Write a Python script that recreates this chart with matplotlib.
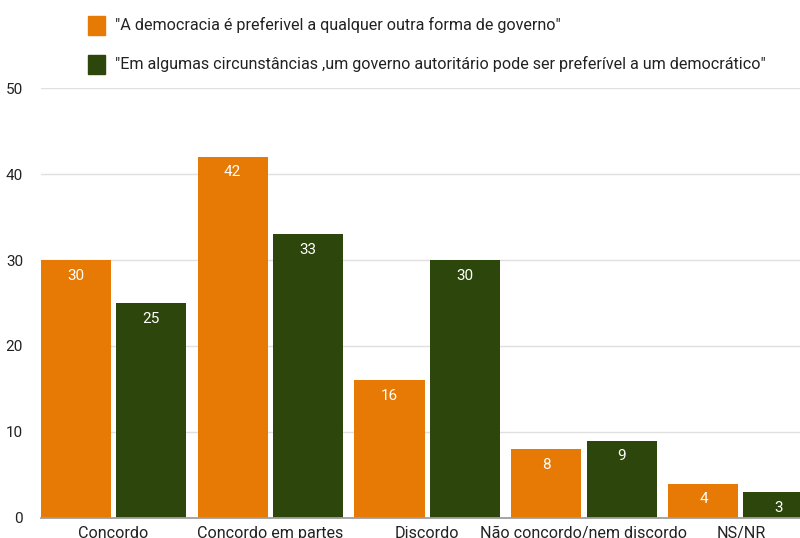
import matplotlib.pyplot as plt
import numpy as np

plt.rcParams['font.family'] = ['Roboto', 'DejaVu Sans']

categorias = ['Concordo', 'Concordo em partes', 'Discordo',
              'Não concordo/nem discordo', 'NS/NR']
democracia = [30, 42, 16, 8, 4]
autoritario = [25, 33, 30, 9, 3]
serie1 = '"A democracia é preferivel a qualquer outra forma de governo"'
serie2 = '"Em algumas circunstâncias ,um governo autoritário pode ser preferível a um democrático"'

laranja = '#e67a05'
verde = '#2d460b'

fig = plt.figure(figsize=(8, 5.38), dpi=100)
ax = fig.add_axes([0.05125, 0.0372, 0.94875, 0.7992])

x = np.arange(len(categorias))
w = 0.446
off = 0.239
b1 = ax.bar(x - off, democracia, w, color=laranja, zorder=3)
b2 = ax.bar(x + off, autoritario, w, color=verde, zorder=3)

for bars, vals in ((b1, democracia), (b2, autoritario)):
    for b, v in zip(bars, vals):
        ax.text(b.get_x() + b.get_width() / 2, v - 1.0, str(v),
                ha='center', va='top', color='white', fontsize=11, zorder=4)

ax.set_xlim(-0.459, 4.376)
ax.set_ylim(0, 50)
ax.set_yticks([0, 10, 20, 30, 40, 50])
ax.yaxis.grid(True, color='#e0e0e0', linewidth=1, zorder=0)
ax.set_xticks(x)
ax.set_xticklabels(categorias, fontsize=11.6)
ax.tick_params(axis='both', length=0, colors='#222222')
ax.tick_params(axis='y', labelsize=11, pad=13)
ax.tick_params(axis='x', pad=6)
for s in ['top', 'right', 'left']:
    ax.spines[s].set_visible(False)
ax.spines['bottom'].set_color('#9e9e9e')
ax.spines['bottom'].set_linewidth(1.3)
ax.spines['bottom'].set_zorder(5)

# legenda manual no topo
fig.patches.append(plt.Rectangle((88 / 800, 1 - 35 / 538), 17 / 800, 19 / 538,
                                 transform=fig.transFigure, color=laranja))
fig.patches.append(plt.Rectangle((88 / 800, 1 - 74 / 538), 17 / 800, 19 / 538,
                                 transform=fig.transFigure, color=verde))
fig.text(115 / 800, 1 - 25 / 538, serie1, fontsize=11.6, va='center', color='#222222')
fig.text(115 / 800, 1 - 64 / 538, serie2, fontsize=11.6, va='center', color='#222222')

fig.savefig('out.png', dpi=100)
